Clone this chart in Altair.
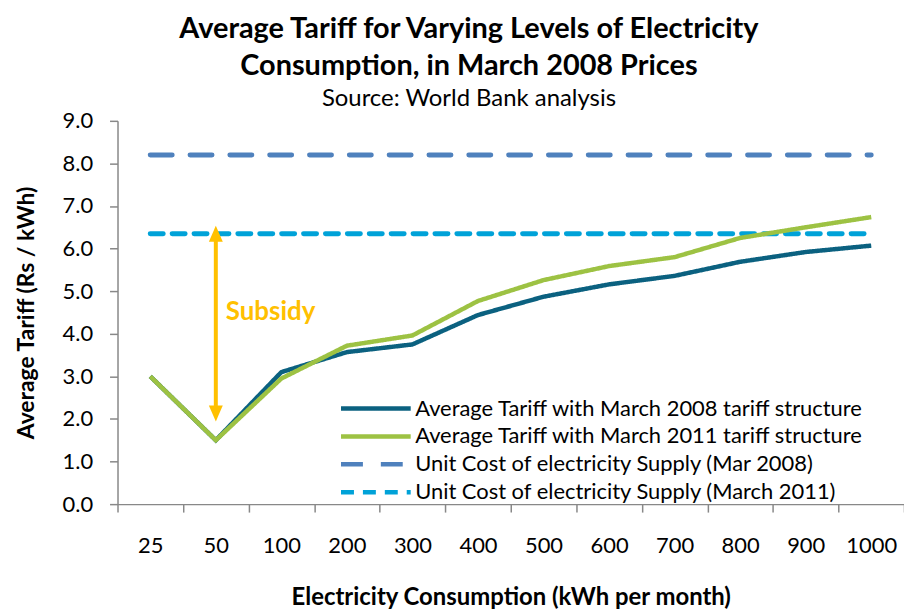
import altair as alt
import pandas as pd

categories = ["25", "50", "100", "200", "300", "400", "500", "600", "700", "800", "900", "1000"]
tariff_2008 = [3.0, 1.5, 3.1, 3.57, 3.75, 4.44, 4.87, 5.16, 5.36, 5.69, 5.92, 6.07]
tariff_2011 = [3.0, 1.5, 2.95, 3.72, 3.96, 4.77, 5.26, 5.59, 5.80, 6.25, 6.50, 6.74]
unit_cost_2008 = 8.2
unit_cost_2011 = 6.35
subsidy_top = 6.35
subsidy_bottom = 2.13
subsidy_label_y = 4.5

series_names = [
    "Average Tariff with March 2008 tariff structure",
    "Average Tariff with March 2011 tariff structure",
    "Unit Cost of electricity Supply (Mar 2008)",
    "Unit Cost of electricity Supply (March 2011)",
]
series_colors = ["#0B6180", "#9DC243", "#4F81BD", "#00A2D8"]
series_dashes = [[1, 0], [1, 0], [22, 18], [13, 9]]

FONT = "Lato"

rows_solid = []
for c, a, b in zip(categories, tariff_2008, tariff_2011):
    rows_solid.append({"cat": c, "value": a, "series": series_names[0]})
    rows_solid.append({"cat": c, "value": b, "series": series_names[1]})
rows_dash = []
for c in categories:
    rows_dash.append({"cat": c, "value": unit_cost_2008, "series": series_names[2]})
    rows_dash.append({"cat": c, "value": unit_cost_2011, "series": series_names[3]})
df_solid = pd.DataFrame(rows_solid)
df_dash = pd.DataFrame(rows_dash)
df_arrow = pd.DataFrame([{"cat": "50", "top": subsidy_top, "bottom": subsidy_bottom,
                          "label_y": subsidy_label_y, "label": "Subsidy"}])

x_enc = alt.X(
    "cat:N",
    sort=categories,
    bandPosition=0.5,
    scale=alt.Scale(type="band", domain=categories, paddingInner=0, paddingOuter=0),
    axis=alt.Axis(
        title="Electricity Consumption (kWh per month)",
        tickBand="extent",
        labelAngle=0,
        labelPadding=24,
        titlePadding=29,
        titleFontSize=24,
    ),
)
y_enc = alt.Y(
    "value:Q",
    scale=alt.Scale(domain=[0, 9], nice=False, zero=True),
    axis=alt.Axis(
        title="Average Tariff (Rs / kWh)",
        values=[0, 1, 2, 3, 4, 5, 6, 7, 8, 9],
        format=".1f",
        labelPadding=17,
        titlePadding=24,
    ),
)
color_enc = alt.Color(
    "series:N",
    scale=alt.Scale(domain=series_names, range=series_colors),
    legend=alt.Legend(
        title=None,
        orient="none",
        legendX=222,
        legendY=279,
        symbolType="stroke",
        symbolSize=4900,
        symbolStrokeWidth=4.5,
        clipHeight=20,
        labelFont=FONT,
        labelFontSize=22,
        labelColor="#000000",
        labelOffset=2,
        rowPadding=6,
        labelLimit=700,
    ),
)
dash_enc = alt.StrokeDash(
    "series:N",
    scale=alt.Scale(domain=series_names, range=series_dashes),
    legend=alt.Legend(title=None),
)

dashed = alt.Chart(df_dash).mark_line(strokeWidth=5, strokeCap="round").encode(
    x=x_enc, y=y_enc, color=color_enc, strokeDash=dash_enc
)
solid = alt.Chart(df_solid).mark_line(strokeWidth=4.5).encode(
    x=x_enc, y=y_enc, color=color_enc, strokeDash=dash_enc
)

arrow_color = "#FFC000"
shaft = alt.Chart(df_arrow).mark_rule(color=arrow_color, strokeWidth=4).encode(
    x=alt.X("cat:N", sort=categories, bandPosition=0.5), y="top:Q", y2="bottom:Q"
)
head_up = alt.Chart(df_arrow).mark_point(
    shape="M0,-1L0.875,1L-0.875,1Z", size=256, filled=True, opacity=1, color=arrow_color
).encode(x=alt.X("cat:N", sort=categories, bandPosition=0.5), y="top:Q")
head_down = alt.Chart(df_arrow).mark_point(
    shape="M0,1L0.875,-1L-0.875,-1Z", size=256, filled=True, opacity=1, color=arrow_color
).encode(x=alt.X("cat:N", sort=categories, bandPosition=0.5), y="bottom:Q")
label = alt.Chart(df_arrow).mark_text(
    color=arrow_color, font=FONT, fontWeight="bold", fontSize=26, align="left",
    baseline="middle", dx=10
).encode(x=alt.X("cat:N", sort=categories, bandPosition=0.5), y="label_y:Q", text="label:N")

chart = alt.layer(dashed, solid, shaft, head_up, head_down, label).properties(
    width=790,
    height=385,
    autosize=alt.AutoSizeParams(type="none"),
    padding={"left": 110, "top": 112, "right": 0, "bottom": 104},
    title=alt.TitleParams(
        text=["Average Tariff for Varying Levels of Electricity", "Consumption, in March 2008 Prices"],
        subtitle="Source: World Bank analysis",
        font=FONT,
        fontSize=29,
        fontWeight="bold",
        lineHeight=37,
        color="#000000",
        subtitleFont=FONT,
        subtitleFontSize=24,
        subtitleColor="#000000",
        subtitlePadding=6,
        anchor="middle",
        dx=-42,
        offset=-1,
    ),
).configure_view(stroke=None).configure_axis(
    labelFont=FONT,
    labelFontSize=22,
    labelColor="#000000",
    titleFont=FONT,
    titleFontSize=23,
    titleFontWeight="bold",
    titleColor="#000000",
    grid=False,
    domainColor="#888888",
    tickColor="#888888",
    tickSize=8,
    domainWidth=1.5,
    tickWidth=1.5,
).configure_axisY(domain=True)

chart.save("out.html", embed_options={"renderer": "svg", "actions": False})
